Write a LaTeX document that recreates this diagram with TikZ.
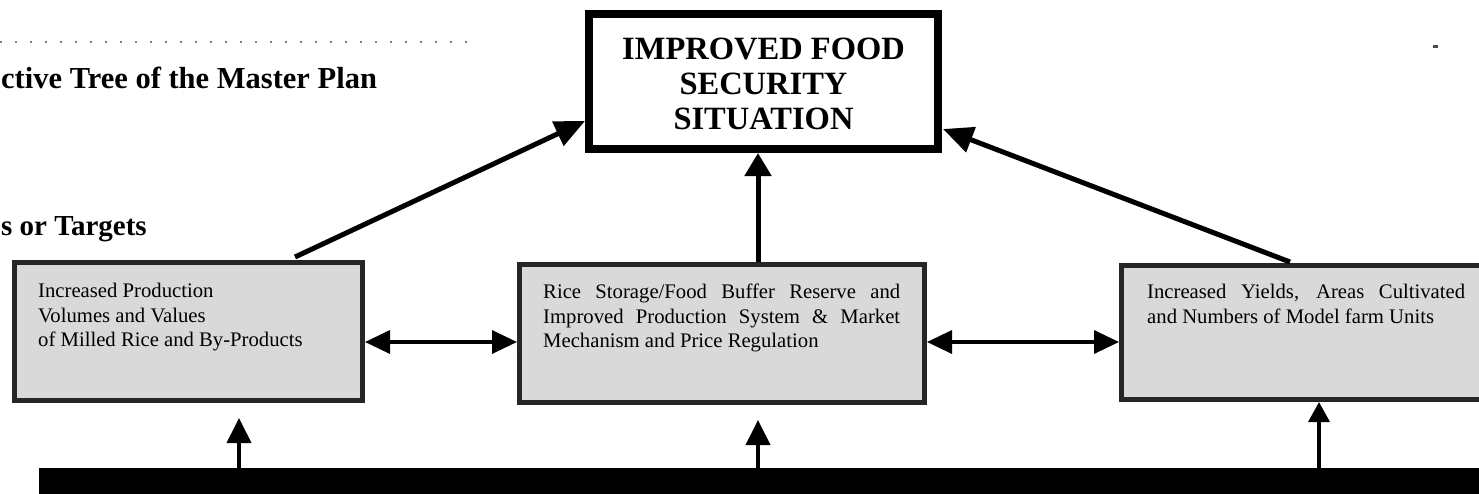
\documentclass[tikz,border=0pt]{standalone}
\usepackage{fontspec}
\setmainfont{Liberation Serif}
\usetikzlibrary{arrows.meta,calc}
\tikzset{
  goalbox/.style={draw=black!85, line width=5pt, fill=black!15, inner sep=0pt, rectangle},
  boxtext/.style={inner sep=0pt, align=left, anchor=north west, font=\fontsize{20.7}{24.5}\selectfont},
  headtext/.style={inner sep=0pt, font=\bfseries\fontsize{32.5}{35}\selectfont},
  bigarrow/.style={line width=5pt, -{Triangle[length=30pt,width=26pt]}},
  midarrow/.style={line width=5pt, -{Triangle[length=23pt,width=26pt]}},
  dblarrow/.style={line width=3.5pt, {Triangle[length=25pt,width=23pt]}-{Triangle[length=25pt,width=23pt]}},
  uparrow/.style={line width=4pt, -{Triangle[length=25pt,width=24pt]}},
  smallup/.style={line width=3.5pt, -{Triangle[length=20pt,width=21pt]}}
}
\begin{document}
\begin{tikzpicture}[x=1pt,y=-1pt]
\useasboundingbox (0,0) rectangle (1479,493);
% faint scan marks
\draw[black!50, line width=1.2pt, dash pattern=on 2pt off 13pt] (0,42) -- (470,42);
\fill[black!70] (1433,45) rectangle (1438,47.5);

% headings
\node[headtext, font=\bfseries\fontsize{30.5}{35}\selectfont, anchor=base west] (title) at (1,88) {ctive Tree of the Master Plan};
\node[headtext, font=\bfseries\fontsize{29}{35}\selectfont, anchor=base west] (sub) at (1,235) {s or Targets};

% top goal
\node[draw=black, line width=8pt, fill=white, inner sep=0pt, minimum width=349pt, minimum height=135pt] (tb) at (763.5,81.5) {};
\node[headtext, align=center, anchor=north] (tbt) at (763.5,38) {IMPROVED FOOD\\SECURITY\\SITUATION};

% three objective boxes
\node[goalbox, minimum width=348pt, minimum height=138pt] (lb) at (188.5,331.5) {};
\node[boxtext] (lbt) at (38,283) {Increased Production\\Volumes and Values\\of Milled Rice and By-Products};

\node[goalbox, minimum width=405pt, minimum height=138pt] (mb) at (722,333.5) {};
\node[boxtext] (mbt) at (543,284) {\makebox[357pt][s]{Rice Storage/Food Buffer Reserve and}\\\makebox[357pt][s]{Improved Production System \& Market}\\Mechanism and Price Regulation};

\node[goalbox, minimum width=380pt, minimum height=134pt] (rb) at (1311.5,332.5) {};
\node[boxtext] (rbt) at (1147,284) {\makebox[318pt][s]{Increased Yields, Areas Cultivated}\\and Numbers of Model farm Units};

% bottom bar
\node[fill=black, inner sep=0pt, minimum width=1460pt, minimum height=30pt, anchor=north west] (bar) at (39,468) {};

% arrows to top goal
\coordinate (a1) at (295,257);
\coordinate (a2) at (585,121);
\draw[bigarrow] (a1) -- (a2);
\coordinate (c1) at (1290,262);
\coordinate (c2) at (943,129);
\draw[bigarrow] (c1) -- (c2);
\coordinate (m0) at (758,262);
\draw[midarrow] (m0) -- (m0 |- tb.south);

% horizontal double arrows
\draw[dblarrow] (lb.east |- 0,342) -- (mb.west |- 0,342);
\draw[dblarrow] (mb.east |- 0,342) -- (rb.west |- 0,342);

% arrows from the bar
\coordinate (u1) at (239,418);
\draw[uparrow] (u1 |- bar.north) -- (u1);
\coordinate (u2) at (758,420);
\draw[uparrow] (u2 |- bar.north) -- (u2);
\coordinate (u3) at (1319,400);
\draw[smallup] (u3 |- bar.north) -- (u3 |- rb.south);
\end{tikzpicture}
\end{document}
